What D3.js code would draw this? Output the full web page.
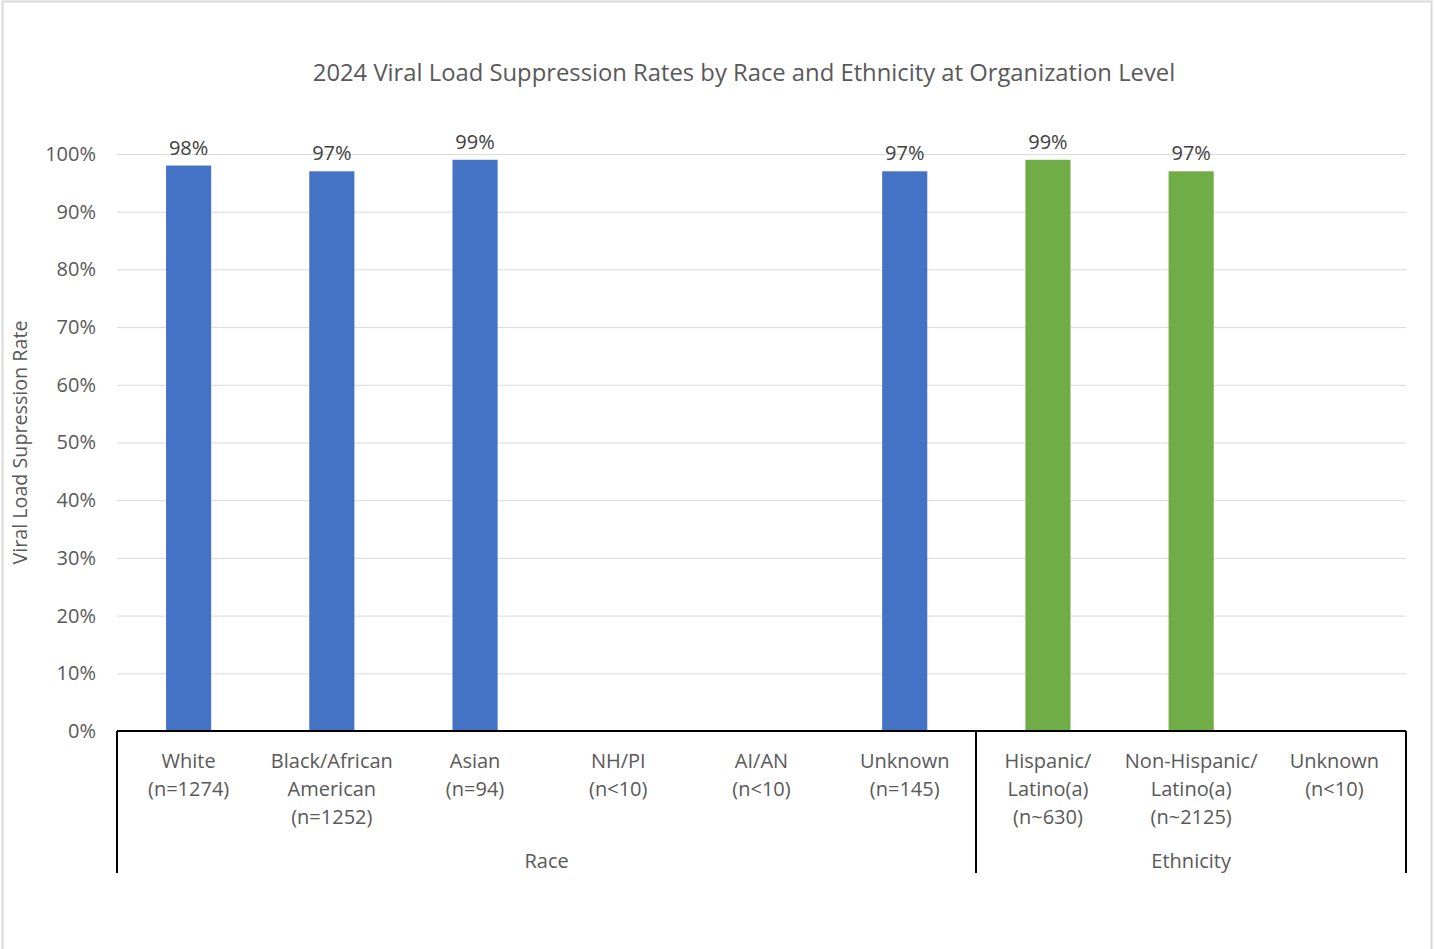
<!DOCTYPE html>
<html>
<head>
<meta charset="utf-8">
<script src="https://cdn.jsdelivr.net/npm/d3@7"></script>
<style>
  html, body { margin: 0; padding: 0; background: #fff; }
  svg { display: block; }
</style>
</head>
<body>
<div id="chart"></div>
<script>
(function () {
  'use strict';

  // ---- data ----
  var CATEGORIES = [
    ['White', '(n=1274)'],
    ['Black/African', 'American', '(n=1252)'],
    ['Asian', '(n=94)'],
    ['NH/PI', '(n<10)'],
    ['AI/AN', '(n<10)'],
    ['Unknown', '(n=145)'],
    ['Hispanic/', 'Latino(a)', '(n~630)'],
    ['Non-Hispanic/', 'Latino(a)', '(n~2125)'],
    ['Unknown', '(n<10)']
  ];
  var VALUES = [0.98, 0.97, 0.99, null, null, 0.97, 0.99, 0.97, null];
  var GROUP_OF = ['Race', 'Race', 'Race', 'Race', 'Race', 'Race', 'Ethnicity', 'Ethnicity', 'Ethnicity'];
  var GROUPS = ['Race', 'Ethnicity'];
  var Y_TICKS = [0, 0.1, 0.2, 0.3, 0.4, 0.5, 0.6, 0.7, 0.8, 0.9, 1.0];

  var TITLE = '2024 Viral Load Suppression Rates by Race and Ethnicity at Organization Level';
  var Y_TITLE = 'Viral Load Supression Rate';

  var COLOR_GROUP = { 'Race': '#4472c4', 'Ethnicity': '#70ad47' };
  var COLOR_TEXT  = '#595959';
  var COLOR_GRID  = '#d9d9d9';
  var FONT = 'Open Sans, Noto Sans, sans-serif';

  var WIDTH = 1435, HEIGHT = 949;
  var PLOT = { left: 117, right: 1406, top: 154, bottom: 731 };
  var GROUP_LINE_BOTTOM = 873;

  var svg = d3.select('#chart').append('svg')
    .attr('width', WIDTH)
    .attr('height', HEIGHT);

  svg.append('rect')
    .attr('x', 2.5).attr('y', 1.5)
    .attr('width', 1429).attr('height', 960)
    .attr('fill', '#fff')
    .attr('stroke', COLOR_GRID)
    .attr('stroke-width', 2);

  var x = d3.scaleBand()
    .domain(d3.range(CATEGORIES.length))
    .range([PLOT.left, PLOT.right])
    .paddingInner(0.685)
    .paddingOuter(0.3425);

  var y = d3.scaleLinear().domain([0, 1]).range([PLOT.bottom, PLOT.top]);

  // title
  svg.append('text')
    .attr('x', 744).attr('y', 81)
    .attr('text-anchor', 'middle')
    .attr('fill', COLOR_TEXT)
    .attr('font-family', FONT)
    .attr('font-size', '23.8px')
    .text(TITLE);

  // gridlines + tick labels
  var yAxis = d3.axisLeft(y)
    .tickValues(Y_TICKS)
    .tickFormat(d3.format('.0%'))
    .tickSize(-(PLOT.right - PLOT.left))
    .tickPadding(21);

  var gy = svg.append('g')
    .attr('transform', 'translate(' + PLOT.left + ',0)')
    .call(yAxis);
  gy.select('.domain').remove();
  gy.selectAll('.tick line').attr('stroke', COLOR_GRID).attr('stroke-width', 1);
  gy.selectAll('.tick text')
    .attr('fill', COLOR_TEXT)
    .attr('font-family', FONT)
    .attr('font-size', '20px');

  // y title
  svg.append('text')
    .attr('transform', 'translate(27,' + ((PLOT.top + PLOT.bottom) / 2) + ') rotate(-90)')
    .attr('text-anchor', 'middle')
    .attr('fill', COLOR_TEXT)
    .attr('font-family', FONT)
    .attr('font-size', '19.7px')
    .text(Y_TITLE);

  // bars
  var barData = VALUES.map(function (v, i) { return { i: i, v: v }; })
    .filter(function (d) { return d.v !== null; });

  svg.append('g').selectAll('rect')
    .data(barData)
    .enter().append('rect')
    .attr('x', function (d) { return x(d.i); })
    .attr('y', function (d) { return y(d.v); })
    .attr('width', x.bandwidth())
    .attr('height', function (d) { return y(0) - y(d.v); })
    .attr('fill', function (d) { return COLOR_GROUP[GROUP_OF[d.i]]; });

  // data labels
  svg.append('g').selectAll('text')
    .data(barData)
    .enter().append('text')
    .attr('x', function (d) { return x(d.i) + x.bandwidth() / 2; })
    .attr('y', function (d) { return y(d.v) - 11; })
    .attr('text-anchor', 'middle')
    .attr('fill', '#404040')
    .attr('font-family', FONT)
    .attr('font-size', '20px')
    .text(function (d) { return Math.round(d.v * 100) + '%'; });

  // category labels
  var step = x.step();
  var catG = svg.append('g');
  CATEGORIES.forEach(function (lines, i) {
    var cx = x(i) + x.bandwidth() / 2;
    var t = catG.append('text')
      .attr('text-anchor', 'middle')
      .attr('fill', COLOR_TEXT)
      .attr('font-family', FONT)
      .attr('font-size', '20px');
    lines.forEach(function (ln, k) {
      t.append('tspan')
        .attr('x', cx)
        .attr('y', 768 + k * 28)
        .text(ln);
    });
  });

  // axis baseline
  svg.append('line')
    .attr('x1', PLOT.left).attr('x2', PLOT.right)
    .attr('y1', y(0)).attr('y2', y(0))
    .attr('stroke', '#000').attr('stroke-width', 2);

  // group dividers + group labels
  var bounds = [];
  GROUPS.forEach(function (g) {
    var idx = GROUP_OF.map(function (gg, i) { return gg === g ? i : -1; })
      .filter(function (i) { return i >= 0; });
    var x0 = PLOT.left + step * idx[0];
    var x1 = PLOT.left + step * (idx[idx.length - 1] + 1);
    bounds.push(x0, x1);
    svg.append('text')
      .attr('x', (x0 + x1) / 2)
      .attr('y', 868)
      .attr('text-anchor', 'middle')
      .attr('fill', COLOR_TEXT)
      .attr('font-family', FONT)
      .attr('font-size', '20px')
      .text(g);
  });

  Array.from(new Set(bounds.map(function (b) { return Math.round(b); }))).forEach(function (bx) {
    svg.append('line')
      .attr('x1', bx).attr('x2', bx)
      .attr('y1', y(0)).attr('y2', GROUP_LINE_BOTTOM)
      .attr('stroke', '#000').attr('stroke-width', 2);
  });
})();
</script>
</body>
</html>
